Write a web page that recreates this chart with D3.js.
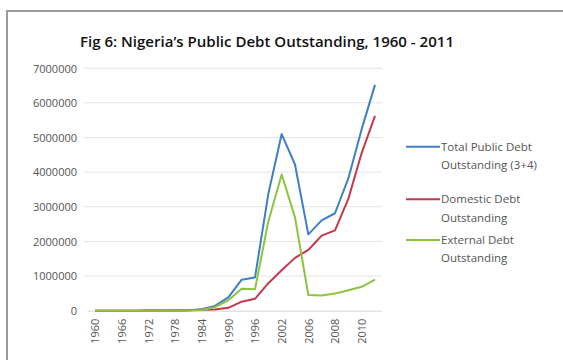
<!DOCTYPE html>
<html>
<head>
<meta charset="utf-8">
<script src="https://cdn.jsdelivr.net/npm/d3@7"></script>
<style>
  html, body { margin: 0; padding: 0; background: #fff; }
  svg { display: block; }
  text { font-family: "Open Sans", "Liberation Sans", sans-serif; }
</style>
</head>
<body>
<svg id="chart" width="563" height="360"></svg>
<script>
// ---- data (N million) ----
const years = ["1960","1963","1966","1969","1972","1975","1978","1981","1984","1987","1990",
               "1993","1996","1999","2002","2005","2006","2007","2008","2009","2010","2011"];
const tickLabels = ["1960","1966","1972","1978","1984","1990","1996","2002","2006","2008","2010"];
const totalDebt    = [80, 240, 700, 2000, 2900, 3850, 10300, 13300, 43300, 137600, 382600,
                      894200, 960000, 3371400, 5098900, 4220100, 2204500, 2607900, 2813200, 3818400, 5240800, 6518800];
const domesticDebt = [20, 70, 300, 1500, 2300, 3500, 8000, 11000, 26000, 37000, 84000,
                      261000, 343000, 794000, 1166000, 1525000, 1753000, 2169000, 2320000, 3228000, 4551000, 5622000];
const externalDebt = [60, 170, 400, 500, 600, 350, 2300, 2300, 17300, 100800, 298600,
                      633100, 617000, 2577400, 3932900, 2695100, 451500, 438900, 493200, 590400, 689800, 896800];
const yTicks = [0, 1000000, 2000000, 3000000, 4000000, 5000000, 6000000, 7000000];
const seriesNames = [["Total Public Debt", "Outstanding (3+4)"], ["Domestic Debt", "Outstanding"], ["External Debt", "Outstanding"]];
const title = "Fig 6: Nigeria\u2019s Public Debt Outstanding, 1960 - 2011";

const svg = d3.select("#chart");
const colors = ["#3f7fc6", "#c23a4b", "#8cc43f"];

// frame
svg.append("path").attr("d", "M7,363 L7,11 L566,11")
  .attr("fill", "none").attr("stroke", "#9a9a9a").attr("stroke-width", 2);

const x = d3.scalePoint().domain(years).range([95, 375]);
const y = d3.scaleLinear().domain([0, 7000000]).range([310.7, 68.2]);

// gridlines
svg.append("g").selectAll("line").data(yTicks.slice(1)).join("line")
  .attr("x1", 84).attr("x2", 382)
  .attr("y1", d => y(d)).attr("y2", d => y(d))
  .attr("stroke", "#e3e3e3").attr("stroke-width", 1);

// y axis labels
const yAxis = d3.axisLeft(y).tickValues(yTicks).tickSize(0).tickPadding(0).tickFormat(d3.format("d"));
const yg = svg.append("g").attr("transform", "translate(77,0)").call(yAxis);
yg.select(".domain").remove();
yg.selectAll("text").attr("font-size", 11).attr("fill", "#555").attr("dy", "0.35em");

// x axis
const xAxis = d3.axisBottom(x).tickValues(tickLabels).tickSize(0).tickPadding(0);
const xg = svg.append("g").attr("transform", "translate(0,310.7)").call(xAxis);
xg.select(".domain").attr("d", "M88,0.5H382").attr("stroke", "#d5d5d5");
xg.selectAll("text")
  .attr("font-size", 11).attr("fill", "#555")
  .attr("transform", "rotate(-90)")
  .attr("text-anchor", "end")
  .attr("x", -8).attr("y", 0).attr("dy", "0.35em");

// lines
const line = d3.line().x((d, i) => x(years[i])).y(d => y(d));
[totalDebt, domesticDebt, externalDebt].forEach((s, k) => {
  svg.append("path").datum(s).attr("d", line)
    .attr("fill", "none").attr("stroke", colors[k]).attr("stroke-width", 2)
    .attr("stroke-linejoin", "round");
});
// redraw external on top of domestic? keep order as series order

// title
svg.append("text").attr("x", 267).attr("y", 47).attr("text-anchor", "middle")
  .attr("font-size", 14).attr("font-weight", 600).attr("fill", "#111")
  .attr("textLength", 374).attr("lengthAdjust", "spacingAndGlyphs")
  .text(title);

// legend
const legY = [146.7, 199.3, 240];
const lg = svg.append("g");
seriesNames.forEach((nm, k) => {
  lg.append("line").attr("x1", 406).attr("x2", 440).attr("y1", legY[k]).attr("y2", legY[k])
    .attr("stroke", colors[k]).attr("stroke-width", 2);
  const t = lg.append("text").attr("x", 441).attr("y", legY[k]).attr("font-size", 11.5).attr("fill", "#555");
  t.append("tspan").attr("x", 441).attr("dy", "0.35em").text(nm[0]);
  t.append("tspan").attr("x", 441).attr("dy", "1.6em").text(nm[1]);
});
</script>
</body>
</html>
